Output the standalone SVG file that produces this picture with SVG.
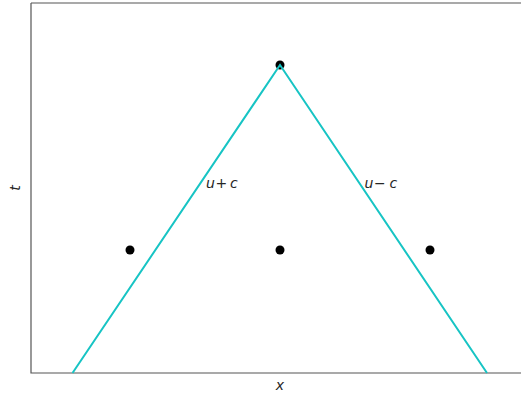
<svg xmlns="http://www.w3.org/2000/svg" width="521" height="394" viewBox="0 0 521 394">
<style>
.dot{fill:#000}
.ln{fill:none;stroke:#17c4c4;stroke-width:2}
.lbl{font-family:"DejaVu Sans",sans-serif;font-size:14px;font-style:italic;fill:#262626}
.up{font-style:normal}
.ax{fill:none;stroke:#555;stroke-width:1.2}
</style>
<rect width="521" height="394" fill="#fff"/>
<g id="axes">
<path class="ax" d="M31,3 H522 M31,3 V373 H522"/>
<text class="lbl" x="280" y="390" text-anchor="middle">x</text>
<text class="lbl" x="0" y="0" text-anchor="middle" transform="translate(20,188) rotate(-90)">t</text>
</g>
<g id="points">
<circle id="p-apex" class="dot" cx="280" cy="65" r="4.5"/>
<circle id="p-left" class="dot" cx="130" cy="250" r="4.5"/>
<circle id="p-mid" class="dot" cx="280" cy="250" r="4.5"/>
<circle id="p-right" class="dot" cx="430" cy="250" r="4.5"/>
</g>
<g id="connectors">
<path class="ln" d="M72.5,373 L280,65 L487,373"/>
</g>
<g id="labels">
<text class="lbl" y="188"><tspan x="206">u</tspan><tspan class="up" x="215.5">+</tspan><tspan x="230">c</tspan></text>
<text class="lbl" y="188"><tspan x="364.5">u</tspan><tspan class="up" x="374">−</tspan><tspan x="389.5">c</tspan></text>
</g>
</svg>
